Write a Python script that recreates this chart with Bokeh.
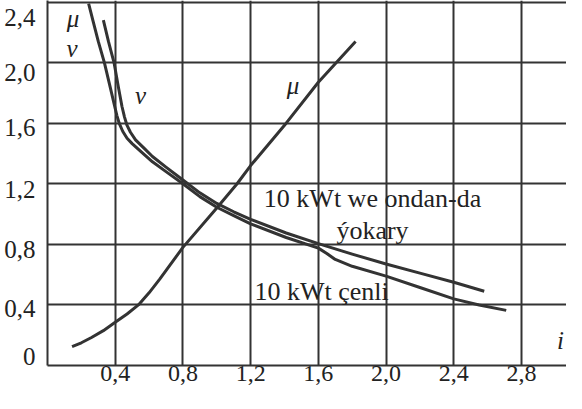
from bokeh.plotting import figure
from bokeh.models import Range1d, FixedTicker
from bokeh.core.properties import value
from bokeh.embed import file_html
from bokeh.resources import INLINE

# ---- data ----
x_ticks = [0.4, 0.8, 1.2, 1.6, 2.0, 2.4, 2.8]
x_tick_labels = ["0,4", "0,8", "1,2", "1,6", "2,0", "2,4", "2,8"]
y_ticks = [0, 0.4, 0.8, 1.2, 1.6, 2.0, 2.4]
y_tick_labels = ["0", "0,4", "0,8", "1,2", "1,6", "2,0", "2,4"]

# mu curve
mu_i = [0.145, 0.2, 0.26, 0.33, 0.4, 0.47, 0.537, 0.6, 0.663, 0.8, 1.0, 1.12, 1.2, 1.41, 1.6, 1.82]
mu_val = [0.125, 0.15, 0.185, 0.23, 0.285, 0.34, 0.4, 0.48, 0.57, 0.78, 1.04, 1.2, 1.32, 1.6, 1.87, 2.14]

# nu curve: 10 kWt we ondan-da ýokary (upper on the right)
nu_high_i = [0.33, 0.36, 0.393, 0.42, 0.44, 0.455, 0.47, 0.49, 0.52, 0.57, 0.62, 0.7, 0.8, 0.9, 1.0,
             1.1, 1.2, 1.41, 1.6, 1.8, 2.0, 2.2, 2.4, 2.58]
nu_high_val = [2.28, 2.14, 2.0, 1.83, 1.71, 1.64, 1.585, 1.54, 1.49, 1.435, 1.38, 1.31, 1.225, 1.14, 1.07,
               1.015, 0.965, 0.875, 0.805, 0.735, 0.67, 0.61, 0.55, 0.49]

# nu curve: 10 kWt çenli (lower on the right)
nu_low_i = [0.243, 0.27, 0.30, 0.336, 0.37, 0.395, 0.41, 0.425, 0.445, 0.47, 0.5, 0.549, 0.62, 0.7,
            0.8, 0.9, 1.0, 1.1, 1.2, 1.41, 1.6, 1.65, 1.70, 1.8, 2.0, 2.2, 2.4, 2.55, 2.71]
nu_low_val = [2.39, 2.27, 2.14, 2.0, 1.84, 1.72, 1.65, 1.595, 1.545, 1.5, 1.465, 1.415, 1.345, 1.28,
              1.2, 1.115, 1.045, 0.99, 0.935, 0.845, 0.775, 0.74, 0.70, 0.655, 0.59, 0.515, 0.44, 0.40, 0.364]

# annotation labels
lab_text = ["\u03bc", "\u03bd", "\u03bd", "\u03bc", "i"]
lab_x = [0.151, 0.145, 0.549, 1.45, 3.03]
lab_y = [2.29, 2.09, 1.78, 1.85, 0.164]

note_text = ["10 kWt we ondan-da", "\u00fdokary"]
note_x = [1.92, 1.92]
note_y = [1.10, 0.893]

note2_text = ["10 kWt \u00e7enli"]
note2_x = [1.223]
note2_y = [0.49]

# ---- layout / style ----
INK = "#333333"
TXT = "#222222"
FONT = "Liberation Serif"
PX_PER_UNIT_Y = 150.0
# the y tick labels sit slightly below their grid lines in the original (pixels, + = down)
y_label_drop_px = [-9, 4, 5, 6, 4, 10, 15]
y_label_pos = [round(t - d / PX_PER_UNIT_Y, 4) for t, d in zip(y_ticks, y_label_drop_px)]

p = figure(width=566, height=393, output_backend="svg", toolbar_location=None,
           x_range=Range1d(0, 3.066), y_range=Range1d(0, 2.41),
           min_border_left=47, min_border_right=0, min_border_top=0, min_border_bottom=28)
p.outline_line_color = None
p.background_fill_color = "white"

# grid
p.xgrid.ticker = FixedTicker(ticks=x_ticks)
p.ygrid.ticker = FixedTicker(ticks=y_ticks[1:])
for g in (p.xgrid, p.ygrid):
    g.grid_line_color = INK
    g.grid_line_width = 2
    g.grid_line_alpha = 1.0

# axes
p.xaxis.ticker = FixedTicker(ticks=x_ticks)
p.xaxis.major_label_overrides = {t: l for t, l in zip(x_ticks, x_tick_labels)}
p.yaxis.ticker = FixedTicker(ticks=y_label_pos)
p.yaxis.major_label_overrides = {t: l for t, l in zip(y_label_pos, y_tick_labels)}
for ax in (p.xaxis, p.yaxis):
    ax.axis_label = None
    ax.axis_line_color = INK
    ax.axis_line_width = 2
    ax.major_tick_line_color = None
    ax.minor_tick_line_color = None
    ax.major_tick_out = 0
    ax.major_tick_in = 0
    ax.major_label_text_font = FONT
    ax.major_label_text_font_size = "25px"
    ax.major_label_text_color = TXT
    ax.major_label_text_line_height = 1.0
p.xaxis.major_label_text_font_size = "24px"
p.xaxis.major_label_standoff = 0
p.yaxis.major_label_standoff = 12

# curves
p.line(mu_i, mu_val, line_color=INK, line_width=3, line_join="round")
p.line(nu_high_i, nu_high_val, line_color=INK, line_width=3, line_join="round")
p.line(nu_low_i, nu_low_val, line_color=INK, line_width=3, line_join="round")

# labels
p.text(x=lab_x, y=lab_y, text=lab_text, text_font=value(FONT), text_font_style="italic",
       text_font_size="25px", text_color=TXT, text_align="center", text_baseline="middle")
p.text(x=note_x, y=note_y, text=note_text, text_font=value(FONT),
       text_font_size="26px", text_color=TXT, text_align="center", text_baseline="middle")
p.text(x=note2_x, y=note2_y, text=note2_text, text_font=value(FONT),
       text_font_size="26px", text_color=TXT, text_align="left", text_baseline="middle")

open("out.html", "w").write(file_html(p, INLINE))
